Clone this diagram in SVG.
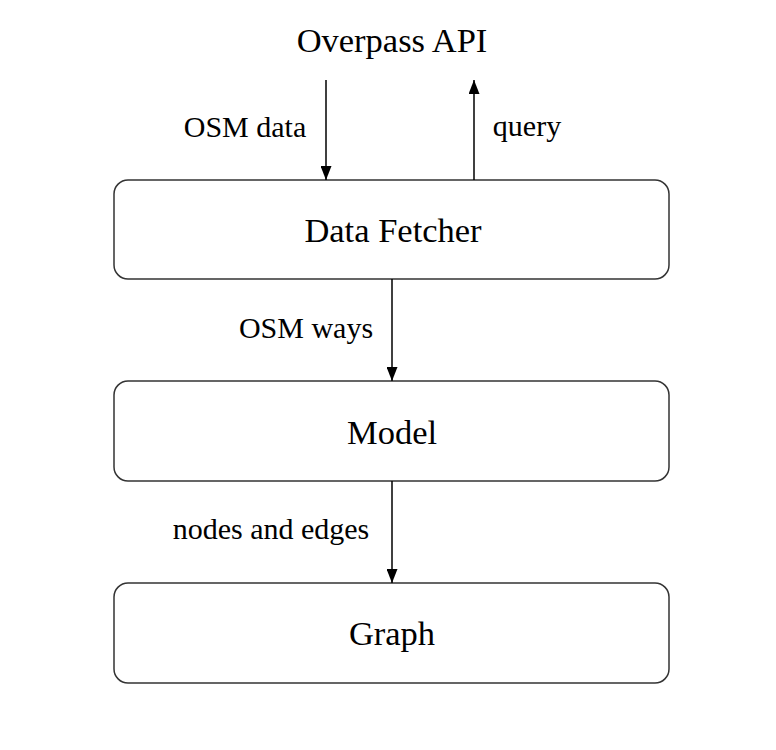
<svg xmlns="http://www.w3.org/2000/svg" width="776" height="750" viewBox="0 0 776 750">
<style>
.box{fill:#fff;stroke:#333;stroke-width:1.5}
.t{font-family:"Liberation Serif","Times New Roman",serif;fill:#000;text-anchor:middle}
.n{font-size:34.5px}
.l{font-size:30px}
.c{stroke:#000;stroke-width:1.5;fill:none;marker-end:url(#ah)}
</style>
<defs>
<marker id="ah" viewBox="0 0 14 11" refX="14" refY="5.5" markerUnits="userSpaceOnUse" markerWidth="14" markerHeight="11" orient="auto">
<path d="M0,0 L14,5.5 L0,11 z" fill="#000"/>
</marker>
</defs>
<rect width="776" height="750" fill="#fff"/>
<g id="overpass"><text class="t n" x="392" y="52">Overpass API</text></g>
<g id="fetcher"><rect class="box" x="114" y="180" width="555" height="99" rx="14"/><text class="t n" x="393" y="242">Data Fetcher</text></g>
<g id="model"><rect class="box" x="114" y="381" width="555" height="100" rx="14"/><text class="t n" x="392" y="444">Model</text></g>
<g id="graph"><rect class="box" x="114" y="583" width="555" height="100" rx="14"/><text class="t n" x="392" y="645">Graph</text></g>
<g id="connectors">
<line class="c" x1="326" y1="80" x2="326" y2="180"/>
<line class="c" x1="474" y1="180" x2="474" y2="80"/>
<line class="c" x1="392" y1="279" x2="392" y2="381"/>
<line class="c" x1="392" y1="481" x2="392" y2="583"/>
<text class="t l" x="245" y="137">OSM data</text>
<text class="t l" x="527" y="136">query</text>
<text class="t l" x="306" y="338">OSM ways</text>
<text class="t l" x="271" y="539">nodes and edges</text>
</g>
</svg>
